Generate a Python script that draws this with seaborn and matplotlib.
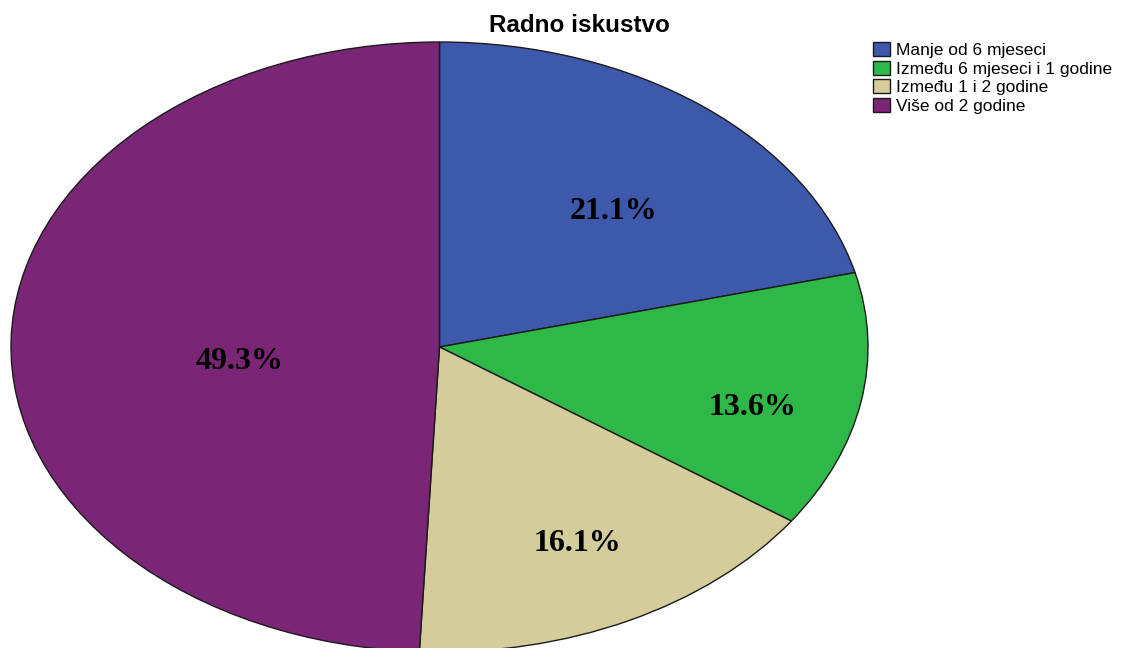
import numpy as np
import matplotlib
matplotlib.use("Agg")
import matplotlib.pyplot as plt
import seaborn as sns

sns.set_theme(style="white")
plt.rcParams["text.color"] = "black"

categories = ["Manje od 6 mjeseci", "Između 6 mjeseci i 1 godine",
              "Između 1 i 2 godine", "Više od 2 godine"]
percents = [21.1, 13.6, 16.1, 49.3]
colors = ["#3E58AC", "#2EB848", "#D4CC9A", "#7B2576"]
# where each percent label sits inside the (stretched) pie, axes data units
label_pos = [(0.406, 0.443), (0.730, -0.197), (0.322, -0.643), (-0.467, -0.049)]

fig = plt.figure(figsize=(11.43, 6.48), dpi=100)
# stretched axes so the pie becomes an ellipse like the original
ax = fig.add_axes([11 / 1143, -4 / 648, 857 / 1143, 610 / 648])

wedges, _ = ax.pie(percents, colors=colors, startangle=90, counterclock=False,
                   wedgeprops=dict(edgecolor="#1a1a1a", linewidth=1.0), radius=1)
ax.set_aspect("auto")
ax.set_xlim(-1, 1)
ax.set_ylim(-1, 1)
ax.axis("off")

for v, (x, y) in zip(percents, label_pos):
    ax.text(x, y, f"{v:.1f}%", ha="center", va="center",
            fontsize=23, fontweight="bold", family="Liberation Serif", color="black")

fig.text(579 / 1143, 1 - 25 / 648, "Radno iskustvo", ha="center", va="center",
         fontsize=17.5, fontweight="bold", family="Liberation Sans", color="black")

fig.legend(wedges, categories, loc="upper left", bbox_to_anchor=(873 / 1143, 1 - 42 / 648),
           frameon=False, prop={"family": "Liberation Sans", "size": 12.5},
           labelcolor="black",
           handlelength=1.0, handleheight=0.85, handletextpad=0.35, labelspacing=0.16,
           borderaxespad=0, borderpad=0)

fig.savefig("out.png", dpi=100)
